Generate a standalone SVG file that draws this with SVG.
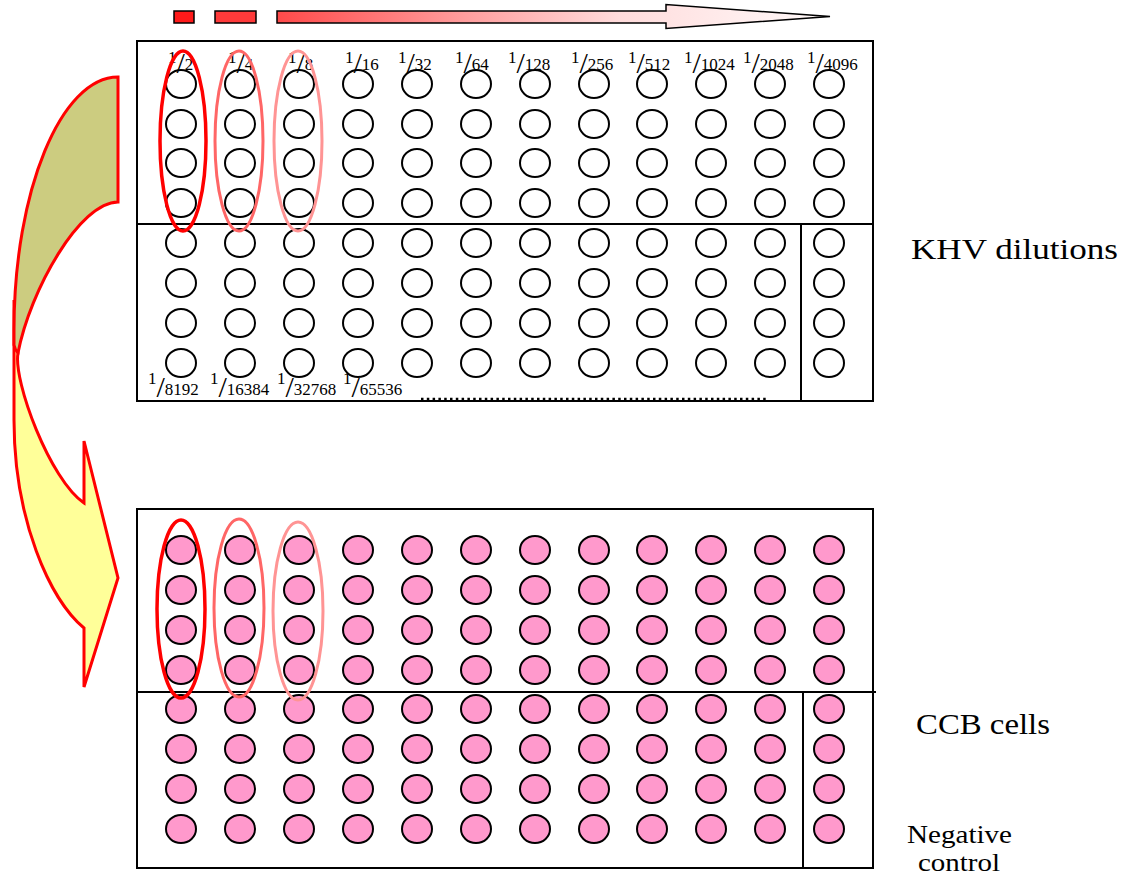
<svg xmlns="http://www.w3.org/2000/svg" xmlns:xlink="http://www.w3.org/1999/xlink" width="1132" height="881" viewBox="0 0 1132 881">
<style>
.plate{fill:#fff;stroke:#000;stroke-width:2}
.div{stroke:#000;stroke-width:2;fill:none}
.well{stroke:#000;stroke-width:2}
.w{fill:#fff}
.p{fill:#ff99cc}
.lbl{font-family:"Liberation Serif","Times New Roman",serif;font-size:17px;fill:#000}
.sl{font-size:30px}
.big{font-family:"Liberation Serif","Times New Roman",serif;fill:#000}
.ring{fill:none}
.curve{stroke:#ff0000;stroke-width:3;stroke-linejoin:miter}
</style>
<defs>
<linearGradient id="grad" gradientUnits="userSpaceOnUse" x1="277" y1="0" x2="830" y2="0">
<stop offset="0" stop-color="#ff4a4a"/>
<stop offset="0.35" stop-color="#ffa0a0"/>
<stop offset="0.62" stop-color="#ffdcdc"/>
<stop offset="1" stop-color="#fffafa"/>
</linearGradient>
<g id="row" class="well">
<ellipse cx="181" cy="0" rx="15" ry="14"/>
<ellipse cx="240" cy="0" rx="15" ry="14"/>
<ellipse cx="299" cy="0" rx="15" ry="14"/>
<ellipse cx="358" cy="0" rx="15" ry="14"/>
<ellipse cx="417" cy="0" rx="15" ry="14"/>
<ellipse cx="476" cy="0" rx="15" ry="14"/>
<ellipse cx="535" cy="0" rx="15" ry="14"/>
<ellipse cx="594" cy="0" rx="15" ry="14"/>
<ellipse cx="652" cy="0" rx="15" ry="14"/>
<ellipse cx="711" cy="0" rx="15" ry="14"/>
<ellipse cx="770" cy="0" rx="15" ry="14"/>
<ellipse cx="829" cy="0" rx="15" ry="14"/>
</g>
</defs>

<g id="dilution-arrow">
<rect x="174" y="11" width="20" height="12" fill="#ff1a1a" stroke="#000" stroke-width="1.5"/>
<rect x="215" y="11" width="41" height="12" fill="#ff3a3a" stroke="#000" stroke-width="1.5"/>
<path d="M277,11 L666,11 L666,4.5 L830,16.5 L666,28.5 L666,23 L277,23 Z" fill="url(#grad)" stroke="#000" stroke-width="1.5"/>
</g>

<g id="khv-plate">
<rect class="plate" x="137" y="41" width="736" height="360"/>
<line class="div" x1="137" y1="224" x2="873" y2="224"/>
<line class="div" x1="801" y1="224" x2="801" y2="401"/>
<use xlink:href="#row" class="w" y="84"/>
<use xlink:href="#row" class="w" y="124"/>
<use xlink:href="#row" class="w" y="163"/>
<use xlink:href="#row" class="w" y="203"/>
<use xlink:href="#row" class="w" y="243"/>
<use xlink:href="#row" class="w" y="283"/>
<use xlink:href="#row" class="w" y="323"/>
<use xlink:href="#row" class="w" y="363"/>
<line x1="421" y1="399" x2="769" y2="399" stroke="#000" stroke-width="2.5" stroke-dasharray="2.5 3.3"/>
</g>

<g id="khv-labels" class="lbl">
<text x="168"><tspan y="63">1</tspan><tspan class="sl" y="73">/</tspan><tspan y="70">2</tspan></text>
<text x="228"><tspan y="63">1</tspan><tspan class="sl" y="73">/</tspan><tspan y="70">4</tspan></text>
<text x="288"><tspan y="63">1</tspan><tspan class="sl" y="73">/</tspan><tspan y="70">8</tspan></text>
<text x="345"><tspan y="63">1</tspan><tspan class="sl" y="73">/</tspan><tspan y="70">16</tspan></text>
<text x="398"><tspan y="63">1</tspan><tspan class="sl" y="73">/</tspan><tspan y="70">32</tspan></text>
<text x="455"><tspan y="63">1</tspan><tspan class="sl" y="73">/</tspan><tspan y="70">64</tspan></text>
<text x="508"><tspan y="63">1</tspan><tspan class="sl" y="73">/</tspan><tspan y="70">128</tspan></text>
<text x="571"><tspan y="63">1</tspan><tspan class="sl" y="73">/</tspan><tspan y="70">256</tspan></text>
<text x="628"><tspan y="63">1</tspan><tspan class="sl" y="73">/</tspan><tspan y="70">512</tspan></text>
<text x="684"><tspan y="63">1</tspan><tspan class="sl" y="73">/</tspan><tspan y="70">1024</tspan></text>
<text x="743"><tspan y="63">1</tspan><tspan class="sl" y="73">/</tspan><tspan y="70">2048</tspan></text>
<text x="807"><tspan y="63">1</tspan><tspan class="sl" y="73">/</tspan><tspan y="70">4096</tspan></text>
<text x="148"><tspan y="384">1</tspan><tspan class="sl" y="397">/</tspan><tspan y="395">8192</tspan></text>
<text x="210"><tspan y="384">1</tspan><tspan class="sl" y="397">/</tspan><tspan y="395">16384</tspan></text>
<text x="277"><tspan y="384">1</tspan><tspan class="sl" y="397">/</tspan><tspan y="395">32768</tspan></text>
<text x="343"><tspan y="384">1</tspan><tspan class="sl" y="397">/</tspan><tspan y="395">65536</tspan></text>
</g>

<g id="khv-rings" class="ring">
<ellipse cx="183" cy="141" rx="23" ry="90" stroke="#ff0000" stroke-width="3.5"/>
<ellipse cx="239" cy="141" rx="24" ry="90" stroke="#ff6666" stroke-width="3"/>
<ellipse cx="298" cy="141" rx="24" ry="90" stroke="#ff9494" stroke-width="3"/>
</g>

<g id="ccb-plate">
<rect class="plate" x="137" y="509" width="736" height="359"/>
<line class="div" x1="137" y1="692" x2="876" y2="692"/>
<line class="div" x1="803" y1="692" x2="803" y2="868"/>
<use xlink:href="#row" class="p" y="550"/>
<use xlink:href="#row" class="p" y="590"/>
<use xlink:href="#row" class="p" y="630"/>
<use xlink:href="#row" class="p" y="670"/>
<use xlink:href="#row" class="p" y="709"/>
<use xlink:href="#row" class="p" y="749"/>
<use xlink:href="#row" class="p" y="789"/>
<use xlink:href="#row" class="p" y="829"/>
</g>

<g id="ccb-rings" class="ring">
<ellipse cx="181" cy="609" rx="24" ry="89" stroke="#ff0000" stroke-width="3.5"/>
<ellipse cx="239" cy="608" rx="25" ry="89" stroke="#ff6666" stroke-width="3"/>
<ellipse cx="298" cy="611" rx="25" ry="89" stroke="#ff9494" stroke-width="3"/>
</g>

<g id="connectors">
<path class="curve" d="M14,300 L14,420 C14,520 50,600 84,628 L84,687 L118,578 L84,441 L84,503 C50,480 13,381 18,353 C16,335 15,318 14,300 Z" fill="#ffff99"/>
<path class="curve" d="M118,77 C61,77 14,191 14,330 L14,345 Q15,350 18,353 C30,290 80,202 118,202 Z" fill="#cccc80"/>
</g>

<g id="texts" class="big">
<text x="911" y="259" font-size="30" textLength="207" lengthAdjust="spacingAndGlyphs">KHV dilutions</text>
<text x="916" y="734" font-size="30" textLength="134" lengthAdjust="spacingAndGlyphs">CCB cells</text>
<text x="907" y="843" font-size="26" textLength="105" lengthAdjust="spacingAndGlyphs">Negative</text>
<text x="918" y="871" font-size="26" textLength="82" lengthAdjust="spacingAndGlyphs">control</text>
</g>
</svg>
